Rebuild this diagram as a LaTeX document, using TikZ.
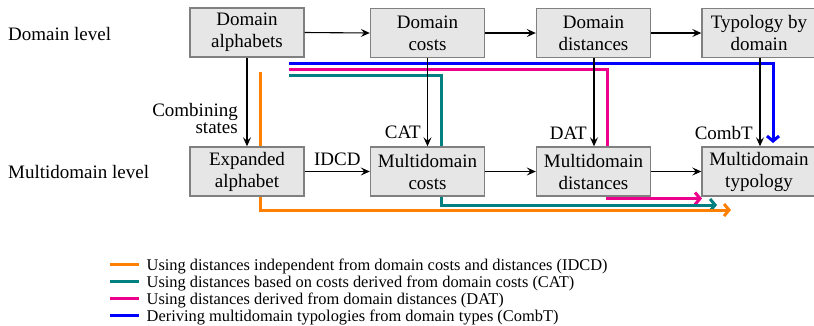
\documentclass[tikz,border=0pt]{standalone}
\usepackage{fontspec}
\setmainfont{Liberation Serif}
\usetikzlibrary{arrows.meta}
\definecolor{cblue}{RGB}{0,0,255}
\definecolor{cmag}{RGB}{236,0,140}
\definecolor{cteal}{RGB}{0,128,128}
\definecolor{corange}{RGB}{255,128,0}
\definecolor{boxfill}{RGB}{230,230,230}
\definecolor{boxdraw}{RGB}{128,128,128}
\begin{document}
\begin{tikzpicture}[x=1pt,y=-1pt,
  box/.style={draw=boxdraw, line width=1.4pt, fill=boxfill, minimum width=114pt, minimum height=49pt, align=center, inner sep=0pt, font=\fontsize{19}{22}\selectfont},
  lbl/.style={inner sep=0pt, font=\fontsize{19}{18}\selectfont},
  legtext/.style={inner sep=0pt, anchor=base west, font=\fontsize{16.4}{17}\selectfont},
  blk/.style={line width=1.1pt, -{Stealth[length=9pt,width=8pt,inset=3.5pt]}},
  col/.style={line width=3pt, -{Straight Barb[length=5pt,width=12pt]}},
  legline/.style={line width=3pt}]
\useasboundingbox (0,0) rectangle (814,325);

% coordinates for colored paths
\coordinate (bS) at (289,63);
\coordinate (mS) at (289,69);
\coordinate (tS) at (289,75);
\coordinate (oS) at (260.5,72);

% colored routes (under boxes)
\draw[col,cblue] (bS) -- (773,63) -- (773,143);
\draw[col,cmag] (mS) -- (607.5,69) -- (607.5,198.5) -- (702,198.5);
\draw[col,cteal] (tS) -- (441,75) -- (441,205) -- (717,205);
\draw[col,corange] (oS) -- (260.5,210) -- (731,210);

% boxes
\node[box] (da) at (247,32.5) {Domain\\alphabets};
\node[box] (dc) at (427.5,33) {Domain\\costs};
\node[box] (dd) at (593.5,33) {Domain\\distances};
\node[box] (td) at (759,33) {Typology by\\domain};
\node[box] (ea) at (247,171.5) {Expanded\\alphabet};
\node[box] (mc) at (427.5,171.5) {Multidomain\\costs};
\node[box] (md) at (593.5,171.5) {Multidomain\\distances};
\node[box] (mt) at (759,171.5) {Multidomain\\typology};

% level labels
\node[lbl, anchor=base west] (l1) at (8,40) {Domain level};
\node[lbl, anchor=base west] (l2) at (8,178) {Multidomain level};

% horizontal arrows
\draw[blk] (da.east) -- (dc.west);
\draw[blk] (dc.east) -- (dd.west);
\draw[blk] (dd.east) -- (td.west);
\draw[blk] (ea.east) -- node[lbl, above=5pt] {IDCD} (mc.west);
\draw[blk] (mc.east) -- (md.west);
\draw[blk] (md.east) -- (mt.west);

% vertical arrows
\draw[blk] (da.south) -- (ea.north);
\draw[blk] (dc.south) -- (mc.north);
\draw[blk] ([xshift=0.5pt]dd.south) -- ([xshift=0.5pt]md.north);
\draw[blk] ([xshift=1pt]td.south) -- ([xshift=1pt]mt.north);

\node[lbl, anchor=base east] (cs) at (238,116) {Combining};
\node[lbl, anchor=base east] (cs2) at (238,133.5) {states};
\node[lbl, anchor=base east] (cat) at (421,138) {CAT};
\node[lbl, anchor=base east] (dat) at (587,139) {DAT};
\node[lbl, anchor=base east] (cbt) at (753,139) {CombT};

% legend
\coordinate (L1a) at (110,264); \coordinate (L1b) at (139,264);
\coordinate (L2a) at (110,281); \coordinate (L2b) at (139,281);
\coordinate (L3a) at (110,298); \coordinate (L3b) at (139,298);
\coordinate (L4a) at (110,315); \coordinate (L4b) at (139,315);
\draw[legline,corange] (L1a) -- (L1b);
\draw[legline,cteal] (L2a) -- (L2b);
\draw[legline,cmag] (L3a) -- (L3b);
\draw[legline,cblue] (L4a) -- (L4b);
\node[legtext] (t1) at (146.5,270) {Using distances independent from domain costs and distances (IDCD)};
\node[legtext] (t2) at (146.5,287) {Using distances based on costs derived from domain costs (CAT)};
\node[legtext] (t3) at (146.5,304) {Using distances derived from domain distances (DAT)};
\node[legtext] (t4) at (146.5,321) {Deriving multidomain typologies from domain types (CombT)};
\end{tikzpicture}
\end{document}
